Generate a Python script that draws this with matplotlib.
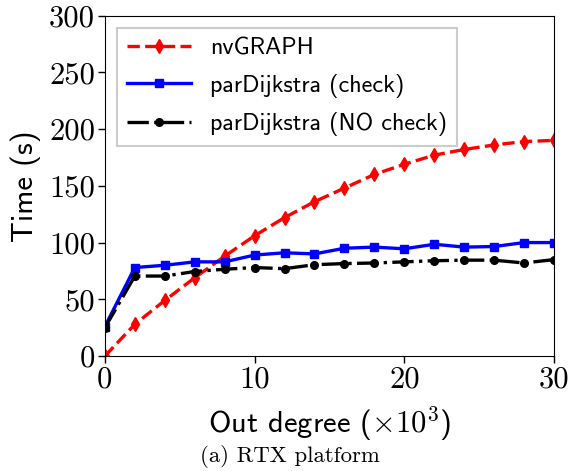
import numpy as np
import matplotlib as mpl
mpl.use('Agg')
from matplotlib import pyplot as plt

# x 軸 (x10^3)
out_degree = [0, 2, 4, 6, 8, 10, 12, 14, 16, 18, 20, 22, 24, 26, 28, 30]

# 各手法の実行時間 [s]
nvgraph = [0, 28, 49, 69, 88, 106, 122, 136, 148, 160, 169, 177, 182, 186, 189, 190]
check = [26, 78, 80, 83, 83, 89, 91, 90, 95, 96, 94.5, 98.5, 96, 96.5, 100, 100]
nocheck = [25, 70.5, 70.5, 74.5, 76.5, 78, 77, 80.5, 81.5, 82, 83, 84, 84.5, 84.5, 82, 85]

xticks = [0, 10, 20, 30]
yticks = [0, 50, 100, 150, 200, 250, 300]

plt.rcParams['mathtext.fontset'] = 'cm'

fig = plt.figure(figsize=(5.7, 4.71), dpi=100)
ax = fig.add_axes([0.184, 0.244, 0.788, 0.723])

ax.plot(out_degree, nvgraph, color='red', linestyle='--', linewidth=2.4,
        marker='d', markersize=7, label='nvGRAPH')
ax.plot(out_degree, check, color='blue', linestyle='-', linewidth=2.4,
        marker='s', markersize=5.5, label='parDijkstra (check)')
ax.plot(out_degree, nocheck, color='black', linestyle='-.', linewidth=2.4,
        marker='o', markersize=5.5, label='parDijkstra (NO check)')

ax.set_xlim(0, 30)
ax.set_ylim(0, 300)
ax.set_xticks(xticks)
ax.set_yticks(yticks)
ax.set_xticklabels([str(v) for v in xticks], fontfamily='cmr10', fontsize=22)
ax.set_yticklabels([str(v) for v in yticks], fontfamily='cmr10', fontsize=22)
ax.tick_params(direction='out', length=5, width=1, top=False, right=False, pad=2)

ax.set_ylabel('Time (s)', fontfamily='cmss10', fontsize=22, labelpad=6)
ax.set_xlabel(r'Out degree ($\times10^3$)', fontfamily='cmss10', fontsize=22, labelpad=8)

leg = ax.legend(loc='upper left', prop={'family': 'cmss10', 'size': 17.4},
                fancybox=False, edgecolor='#cccccc', framealpha=1.0,
                handlelength=2.65, borderaxespad=0.5, labelspacing=0.6)
leg.get_frame().set_linewidth(1.5)

fig.text(0.509, 0.006, '(a) RTX platform', ha='center', va='bottom',
         fontfamily='cmr10', fontsize=16.4)

plt.savefig('out.png', dpi=100)
